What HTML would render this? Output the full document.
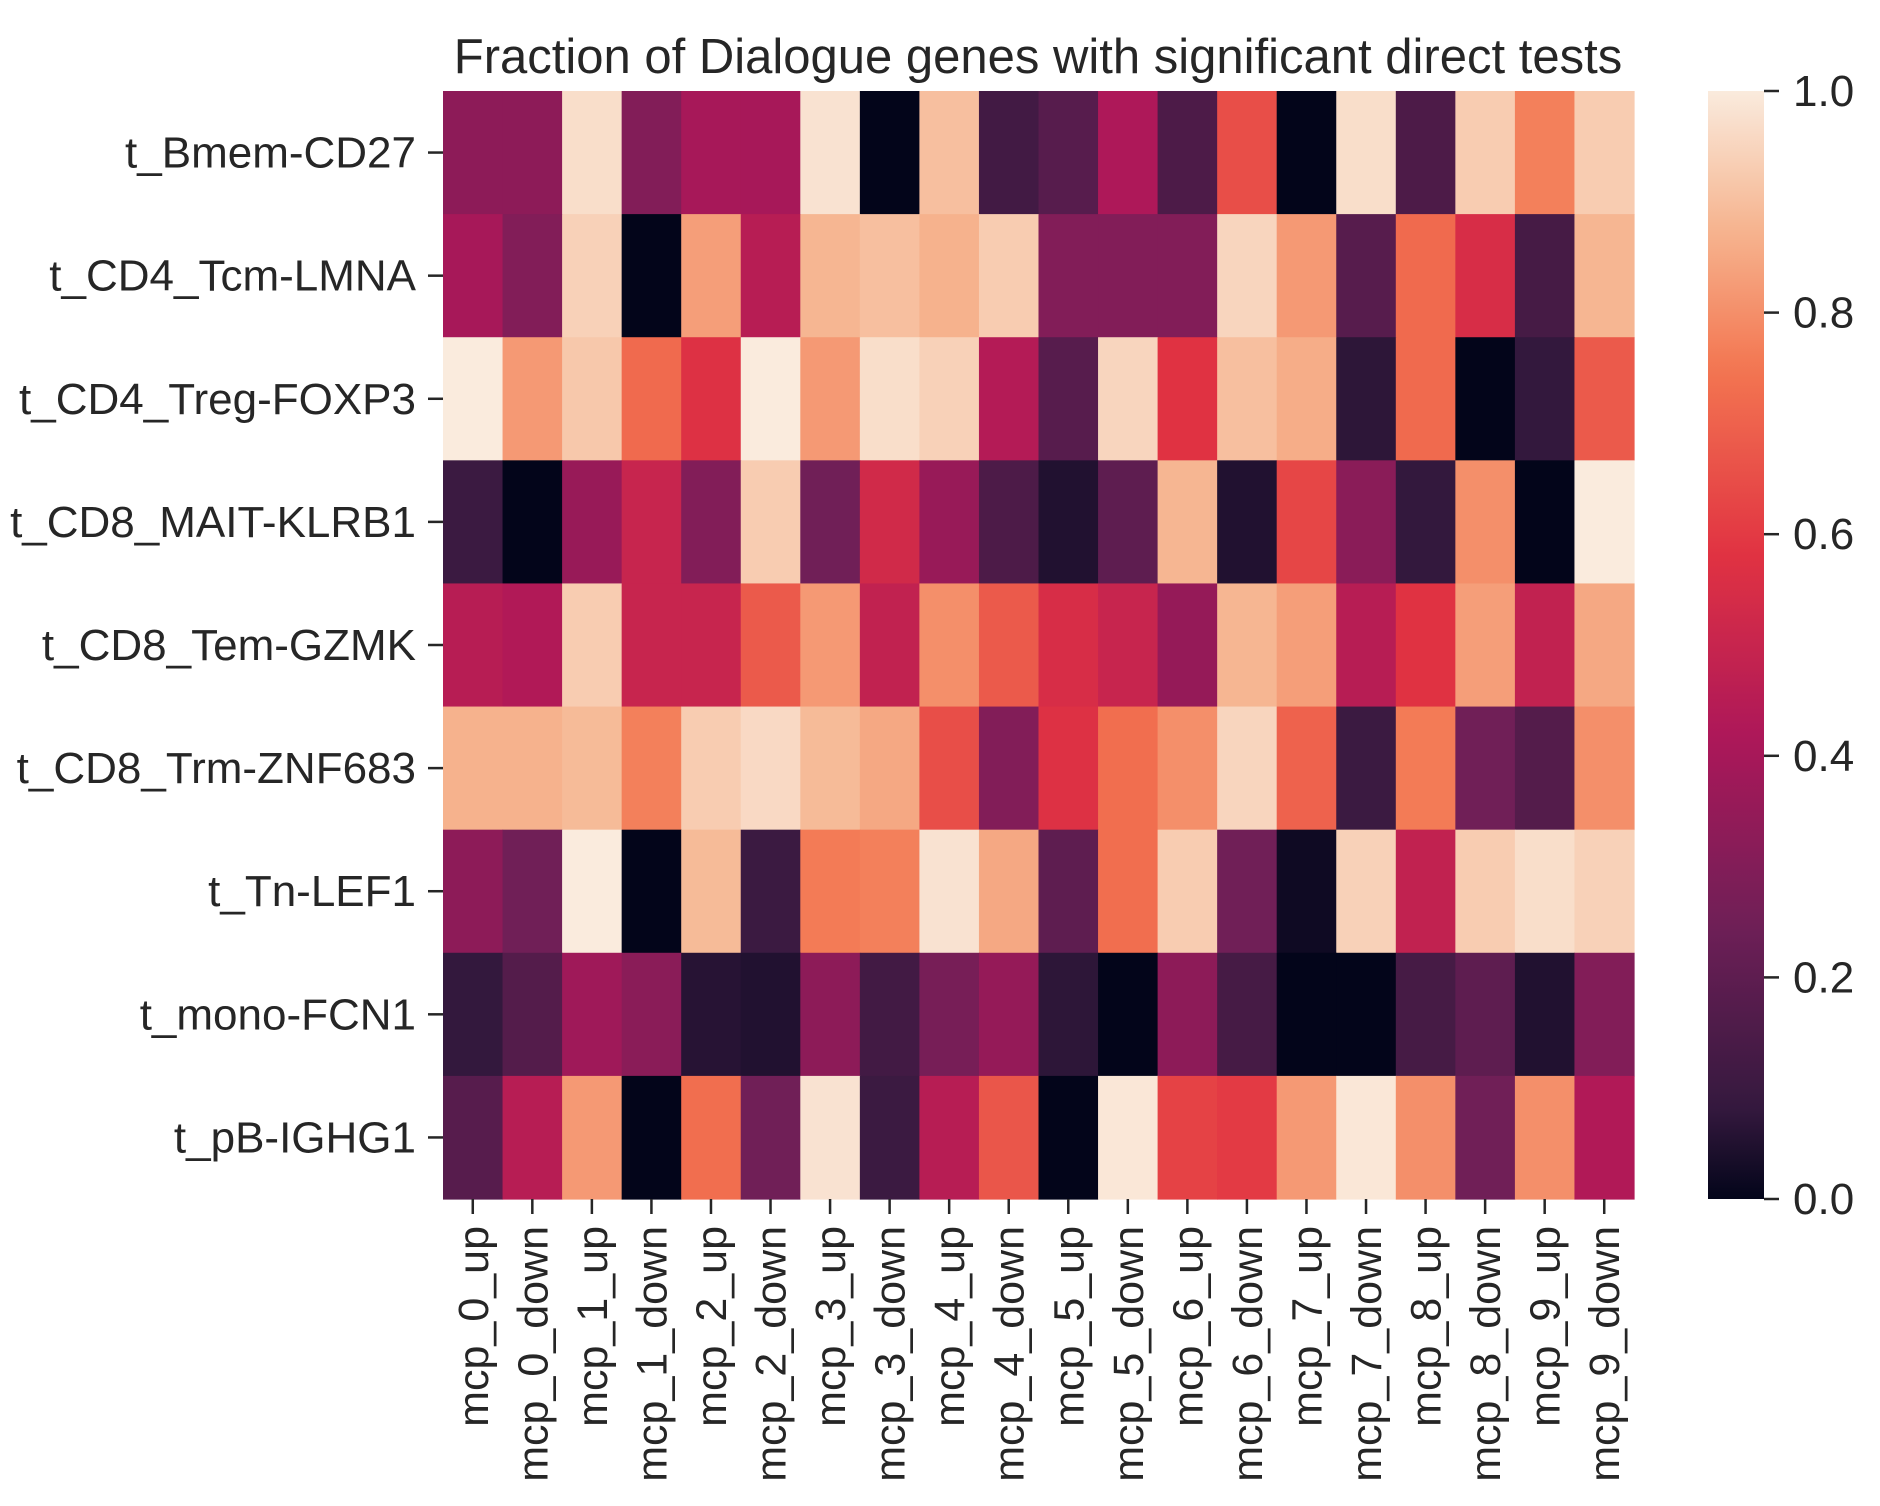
<!DOCTYPE html>
<html><head><meta charset="utf-8"><style>
html,body{margin:0;padding:0;background:#fff;}
svg{display:block;font-family:"Liberation Sans",Arial,sans-serif;}
</style></head><body>
<svg id="chart" width="1880" height="1506" viewBox="0 0 1880 1506">
<rect width="1880" height="1506" fill="#fff"/>
<text x="1038" y="73" font-size="49" text-anchor="middle" fill="#262626">Fraction of Dialogue genes with significant direct tests</text>
<g id="cells"></g><g id="yaxis"></g><g id="xaxis"></g>
<defs><linearGradient id="cbgrad" x1="0" y1="1" x2="0" y2="0"></linearGradient></defs>
<rect x="1708" y="91" width="56" height="1108" fill="url(#cbgrad)"/>
<g id="cbticks"></g>
</svg>
<script>
const rows = ["t_Bmem-CD27","t_CD4_Tcm-LMNA","t_CD4_Treg-FOXP3","t_CD8_MAIT-KLRB1","t_CD8_Tem-GZMK","t_CD8_Trm-ZNF683","t_Tn-LEF1","t_mono-FCN1","t_pB-IGHG1"];
const cols = ["mcp_0_up","mcp_0_down","mcp_1_up","mcp_1_down","mcp_2_up","mcp_2_down","mcp_3_up","mcp_3_down","mcp_4_up","mcp_4_down","mcp_5_up","mcp_5_down","mcp_6_up","mcp_6_down","mcp_7_up","mcp_7_down","mcp_8_up","mcp_8_down","mcp_9_up","mcp_9_down"];
const values = [
[0.33,0.33,0.97,0.3,0.4,0.4,0.98,0.0,0.9,0.12,0.18,0.42,0.15,0.65,0.0,0.97,0.15,0.93,0.77,0.93],
[0.4,0.3,0.94,0.0,0.83,0.45,0.88,0.9,0.87,0.93,0.3,0.3,0.3,0.95,0.82,0.18,0.72,0.55,0.13,0.88],
[1.0,0.82,0.92,0.72,0.57,1.0,0.82,0.97,0.94,0.44,0.18,0.95,0.58,0.9,0.86,0.07,0.72,0.0,0.08,0.68],
[0.1,0.0,0.36,0.5,0.3,0.93,0.25,0.53,0.36,0.15,0.05,0.2,0.88,0.05,0.63,0.32,0.08,0.8,0.0,1.0],
[0.45,0.43,0.93,0.5,0.5,0.68,0.82,0.48,0.8,0.68,0.55,0.5,0.35,0.88,0.83,0.45,0.58,0.83,0.48,0.85],
[0.87,0.87,0.89,0.77,0.93,0.96,0.89,0.85,0.65,0.3,0.57,0.73,0.8,0.95,0.7,0.1,0.76,0.25,0.17,0.8],
[0.33,0.25,1.0,0.0,0.89,0.1,0.76,0.77,0.98,0.85,0.2,0.73,0.93,0.25,0.02,0.94,0.48,0.93,0.97,0.94],
[0.08,0.17,0.38,0.32,0.06,0.05,0.33,0.12,0.27,0.35,0.07,0.0,0.33,0.13,0.0,0.0,0.13,0.2,0.05,0.3],
[0.18,0.45,0.82,0.0,0.73,0.25,0.98,0.1,0.45,0.67,0.0,0.99,0.62,0.6,0.82,0.99,0.8,0.25,0.8,0.43]
];
const cbTicks = [0.0,0.2,0.4,0.6,0.8,1.0];

const NS="http://www.w3.org/2000/svg";
const X0=443,X1=1634,Y0=91,Y1=1199;
const cw=(X1-X0)/cols.length, rh=(Y1-Y0)/rows.length;
const xPos=i=>X0+i*cw, yPos=j=>Y0+j*rh;
const cbY=v=>Y1-v*(Y1-Y0);
const stops=[[0,"#03051a"],[0.083,"#35193e"],[0.25,"#701f57"],[0.417,"#ad1759"],[0.583,"#e13342"],[0.75,"#f37651"],[0.875,"#f6b48f"],[1,"#faebdd"]];
function hex(h){return [1,3,5].map(k=>parseInt(h.substr(k,2),16));}
function cmap(v){v=Math.max(0,Math.min(1,v));
 for(let k=0;k<stops.length-1;k++){const[a,ca]=stops[k],[b,cb]=stops[k+1];
  if(v<=b){const t=(v-a)/(b-a),A=hex(ca),B=hex(cb);
   return "rgb("+A.map((x,i)=>Math.round(x+(B[i]-x)*t)).join(",")+")";}}
 return stops[stops.length-1][1];}
function el(t,a,p){const e=document.createElementNS(NS,t);for(const k in a)e.setAttribute(k,a[k]);p.appendChild(e);return e;}
const gC=document.getElementById("cells");
values.forEach((row,j)=>row.forEach((v,i)=>{
 const r=el("rect",{x:xPos(i),y:yPos(j),width:cw+0.6,height:rh+0.6,fill:cmap(v)},gC);
 
 
}));
const gY=document.getElementById("yaxis");
rows.forEach((n,j)=>{const y=yPos(j)+rh/2;
 el("line",{x1:428,x2:443,y1:y,y2:y,stroke:"#262626","stroke-width":2.5},gY);
 const t=el("text",{x:416,y:y+15,"font-size":44,"text-anchor":"end",fill:"#262626"},gY);t.textContent=n;
 
 
});
const gX=document.getElementById("xaxis");
cols.forEach((n,i)=>{const x=xPos(i)+cw/2;
 el("line",{x1:x,x2:x,y1:1199,y2:1214,stroke:"#262626","stroke-width":2.5},gX);
 const t=el("text",{x:0,y:0,"font-size":43,"text-anchor":"end",fill:"#262626",transform:`translate(${x+15},1226) rotate(-90)`},gX);t.textContent=n;
 
 
});
const grad=document.getElementById("cbgrad");
for(let k=0;k<=50;k++){const v=k/50;el("stop",{offset:v,"stop-color":cmap(v)},grad);}
const gT=document.getElementById("cbticks");
cbTicks.forEach(v=>{const y=cbY(v);
 el("line",{x1:1764,x2:1779,y1:y,y2:y,stroke:"#262626","stroke-width":2.5},gT);
 const t=el("text",{x:1793,y:y+15,"font-size":44,fill:"#262626"},gT);t.textContent=v.toFixed(1);
 
 
});
</script>
</body></html>
